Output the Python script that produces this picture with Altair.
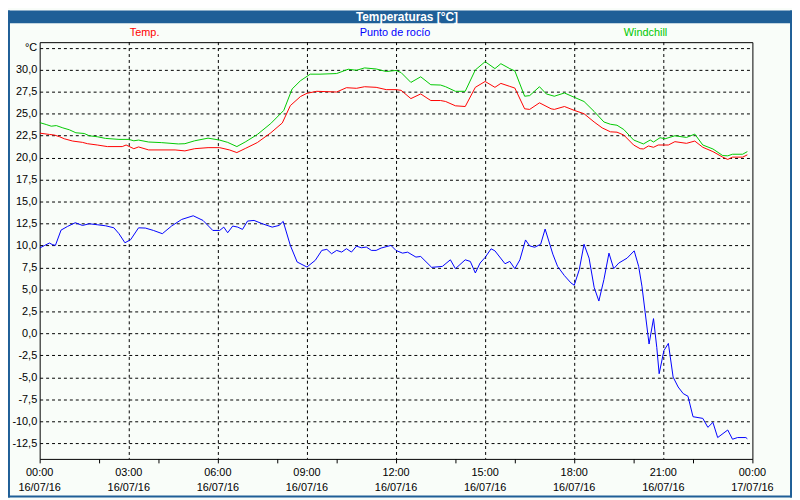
import altair as alt
import pandas as pd

# ---- data (hours since 16/07/16 00:00, °C) ----
temp_h = [0.0, 0.33, 0.5, 0.67, 0.83, 1.11, 1.44, 1.61, 1.94, 2.28, 2.78, 2.91, 3.17, 3.33, 3.67,
          4.56, 4.89, 5.22, 5.67, 6.06, 6.39, 6.64, 6.94, 7.33, 7.78, 8.17, 8.44, 8.78, 9.0, 9.33,
          10.0, 10.33, 10.67, 10.94, 11.33, 11.67, 12.0, 12.17, 12.5, 12.83, 13.17, 13.5, 13.67,
          14.0, 14.33, 14.67, 15.0, 15.33, 15.53, 15.83, 16.0, 16.33, 16.5, 16.83, 17.22, 17.33,
          17.67, 18.0, 18.33, 18.67, 18.94, 19.22, 19.44, 19.67, 20.0, 20.22, 20.33, 20.5, 20.67,
          20.83, 21.17, 21.39, 21.78, 22.06, 22.33, 22.67, 23.0, 23.17, 23.33, 23.67, 23.83]
temp_v = [22.77, 22.62, 22.55, 22.36, 22.13, 21.87, 21.72, 21.57, 21.42, 21.24, 21.24, 21.42, 21.0,
          21.2, 20.86, 20.86, 20.75, 21.0, 21.12, 21.12, 20.86, 20.56, 21.05, 21.7, 22.8, 23.93,
          25.9, 26.93, 27.3, 27.53, 27.45, 27.94, 27.87, 28.05, 27.98, 27.72, 27.72, 27.64, 26.7,
          27.23, 26.48, 26.48, 26.37, 25.88, 25.8, 27.98, 28.65, 27.98, 28.43, 28.09, 27.9, 25.54,
          25.47, 26.22, 25.54, 25.47, 25.8, 25.36, 24.98, 24.04, 23.37, 22.92, 22.88, 22.55, 21.42,
          21.0, 20.97, 21.31, 21.16, 21.42, 21.42, 21.8, 21.61, 21.87, 21.16, 20.67, 20.04, 19.78,
          20.04, 20.04, 20.3]

wind_h = [0.0, 0.22, 0.39, 0.56, 0.78, 1.0, 1.22, 1.5, 1.67, 1.94, 2.22, 2.67, 3.0, 3.17, 3.33,
          3.67, 4.11, 4.67, 4.89, 5.22, 5.67, 6.06, 6.33, 6.64, 6.94, 7.33, 7.78, 8.22, 8.5, 8.78,
          9.11, 9.44, 10.0, 10.39, 10.67, 10.94, 11.33, 11.67, 12.0, 12.17, 12.5, 12.83, 13.17,
          13.5, 13.67, 14.0, 14.33, 14.67, 15.0, 15.33, 15.53, 15.83, 16.0, 16.33, 16.5, 16.83,
          17.06, 17.33, 17.67, 18.0, 18.33, 18.67, 19.0, 19.22, 19.44, 19.67, 20.0, 20.33, 20.56,
          20.67, 20.89, 21.06, 21.39, 21.78, 22.06, 22.33, 22.67, 23.0, 23.17, 23.33, 23.67, 23.83]
wind_v = [23.97, 23.75, 23.56, 23.63, 23.37, 23.15, 22.81, 22.73, 22.47, 22.36, 22.17, 22.06,
          22.06, 21.9, 21.98, 21.76, 21.69, 21.54, 21.57, 21.9, 22.2, 21.98, 21.72, 21.24, 21.8,
          22.62, 23.86, 25.36, 27.79, 28.73, 29.48, 29.48, 29.55, 30.04, 29.92, 30.19, 30.07, 29.78,
          29.9, 29.66, 28.54, 29.18, 28.28, 28.24, 28.05, 27.53, 27.53, 29.96, 30.9, 30.11, 30.67,
          30.11, 29.85, 26.97, 27.04, 28.05, 27.23, 26.97, 27.34, 26.85, 26.37, 25.24, 24.04,
          23.78, 23.67, 23.18, 21.99, 21.54, 21.99, 21.76, 22.25, 22.13, 22.47, 22.28, 22.66,
          21.42, 20.97, 20.22, 20.19, 20.37, 20.37, 20.67]

dew_h = [0.0, 0.17, 0.33, 0.42, 0.53, 0.72, 0.94, 1.2, 1.44, 1.67, 1.94, 2.22, 2.5, 2.67, 2.87,
         3.06, 3.33, 3.56, 3.83, 4.13, 4.44, 4.78, 5.17, 5.5, 5.83, 6.06, 6.2, 6.33, 6.5, 6.67,
         6.83, 7.0, 7.22, 7.5, 7.83, 8.06, 8.2, 8.44, 8.67, 9.0, 9.28, 9.5, 9.67, 9.83, 10.0,
         10.17, 10.33, 10.5, 10.67, 10.83, 11.0, 11.17, 11.33, 11.5, 11.83, 12.0, 12.22, 12.39,
         12.67, 12.83, 13.2, 13.56, 13.83, 14.0, 14.33, 14.5, 14.67, 14.83, 15.0, 15.2, 15.33,
         15.67, 15.83, 16.0, 16.17, 16.36, 16.5, 16.67, 16.87, 17.02, 17.28, 17.44, 17.67, 17.89,
         18.0, 18.17, 18.33, 18.5, 18.67, 18.83, 19.0, 19.17, 19.33, 19.5, 19.78, 20.02, 20.17,
         20.28, 20.39, 20.52, 20.67, 20.78, 20.86, 21.02, 21.17, 21.33, 21.5, 21.67, 21.83, 22.0,
         22.33, 22.5, 22.67, 22.83, 23.17, 23.33, 23.5, 23.78, 23.83]
dew_v = [9.7, 10.0, 10.27, 10.1, 10.0, 11.74, 12.16, 12.58, 12.27, 12.46, 12.35, 12.23, 12.0,
         11.33, 10.3, 10.64, 12.0, 11.97, 11.7, 11.33, 12.2, 12.95, 13.37, 12.84, 11.7, 11.7,
         12.08, 11.44, 12.2, 12.08, 11.82, 12.77, 12.84, 12.46, 12.08, 12.27, 12.73, 10.0, 8.11,
         7.54, 8.3, 9.43, 9.55, 9.05, 9.43, 9.24, 9.62, 9.24, 9.92, 9.73, 9.81, 9.43, 9.43, 9.7,
         10.0, 9.42, 9.12, 9.23, 8.67, 8.74, 7.5, 7.61, 8.36, 7.35, 8.36, 8.18, 6.86, 7.99, 8.63,
         9.61, 9.38, 7.91, 8.18, 7.35, 8.36, 10.62, 9.94, 9.79, 10.13, 11.86, 9.0, 7.61, 6.56,
         5.73, 5.47, 7.24, 10.13, 8.55, 5.24, 3.67, 6.11, 9.12, 7.35, 7.99, 8.55, 9.38, 7.61, 5.36,
         2.35, -1.22, 1.67, -1.6, -4.6, -1.97, -1.15, -4.98, -6.11, -6.86, -7.16, -9.49, -9.68,
         -10.7, -10.13, -11.86, -11.0, -12.05, -11.86, -11.86, -12.0]

series_names = ["Temp.", "Punto de rocío", "Windchill"]
series_colors = ["#FF0000", "#0000FF", "#00C800"]
series_label_x = [106, 359, 612]

y_ticks = [-12.5, -10.0, -7.5, -5.0, -2.5, 0.0, 2.5, 5.0, 7.5, 10.0, 12.5, 15.0, 17.5, 20.0,
           22.5, 25.0, 27.5, 30.0, 32.5]
x_ticks = list(range(0, 25))
x_grid = [3, 6, 9, 12, 15, 18, 21]
x_label_h = [0, 3, 6, 9, 12, 15, 18, 21, 24]
x_label_time = ["00:00", "03:00", "06:00", "09:00", "12:00", "15:00", "18:00", "21:00", "00:00"]
x_label_date = ["16/07/16"] * 8 + ["17/07/16"]
title_text = "Temperaturas [°C]"

FONT = "Liberation Sans"
BG = "#F9FDF9"
FRAME = "#1F5F97"
W, H = 720, 421

df = pd.concat([
    pd.DataFrame({"h": temp_h, "v": temp_v, "s": series_names[0]}),
    pd.DataFrame({"h": dew_h, "v": dew_v, "s": series_names[1]}),
    pd.DataFrame({"h": wind_h, "v": wind_v, "s": series_names[2]}),
], ignore_index=True)

x_scale = alt.Scale(domain=[0, 24], nice=False, zero=False)
y_scale = alt.Scale(domain=[-14.29, 33.12], nice=False, zero=False)

y_label_expr = ("datum.value > 32 ? '°C' : (datum.value < 0 ? '-' : '') + "
                "replace(format(abs(datum.value), '.1f'), '.', ',')")

lines = alt.Chart(df).mark_line(strokeWidth=1, clip=True).encode(
    x=alt.X("h:Q", scale=x_scale, axis=alt.Axis(
        values=x_ticks, grid=False, domain=False, tickColor="black", tickSize=4,
        labels=False, title=None)),
    y=alt.Y("v:Q", scale=y_scale, axis=alt.Axis(
        values=y_ticks, grid=True, gridColor="black", gridDash=[3, 3], gridWidth=1,
        ticks=False, domain=False, labelPadding=3, labelExpr=y_label_expr,
        labelFont=FONT, labelFontSize=11, labelColor="black", labelOverlap=False,
        labelFlush=False, title=None)),
    color=alt.Color("s:N", scale=alt.Scale(domain=series_names, range=series_colors),
                    legend=None),
    detail="s:N",
)

vgrid = alt.Chart(pd.DataFrame({"g": x_grid})).mark_rule(
    color="black", strokeDash=[3, 3], strokeWidth=1, xOffset=0.5).encode(
    x=alt.X("g:Q", scale=x_scale), y=alt.value(0), y2=alt.value(H))

xlab_df = pd.DataFrame({"h": x_label_h, "t": x_label_time, "d": x_label_date})
xlab_time = alt.Chart(xlab_df).mark_text(
    font=FONT, fontSize=11, color="black", align="center", baseline="middle").encode(
    x=alt.X("h:Q", scale=x_scale), y=alt.value(H + 14), text="t:N")
xlab_date = alt.Chart(xlab_df).mark_text(
    font=FONT, fontSize=11, color="black", align="center", baseline="middle").encode(
    x=alt.X("h:Q", scale=x_scale), y=alt.value(H + 29), text="d:N")

title_bar = alt.Chart(pd.DataFrame({"t": [title_text]})).mark_rect(color=FRAME).encode(
    x=alt.value(-32), x2=alt.value(760), y=alt.value(-32), y2=alt.value(-19))

title = alt.Chart(pd.DataFrame({"t": [title_text]})).mark_text(
    font=FONT, fontSize=12, fontWeight="bold", color="white", align="center",
    baseline="middle").encode(text="t:N", x=alt.value(371), y=alt.value(-25))

legend_df = pd.DataFrame({"s": series_names, "lx": series_label_x})
legend_text = alt.Chart(legend_df).mark_text(
    font=FONT, fontSize=11, align="center", baseline="middle").encode(
    text="s:N",
    x=alt.X("lx:Q", scale=None),
    y=alt.value(-9),
    color=alt.Color("s:N", scale=alt.Scale(domain=series_names, range=series_colors),
                    legend=None))

frame_left = alt.Chart(pd.DataFrame({"k": ["l"]})).mark_rule(color=FRAME, strokeWidth=2).encode(
    x=alt.value(-31), y=alt.value(-32), y2=alt.value(460))
frame_right = alt.Chart(pd.DataFrame({"k": ["r"]})).mark_rule(color=FRAME, strokeWidth=2).encode(
    x=alt.value(759), y=alt.value(-32), y2=alt.value(460))
frame_bottom = alt.Chart(pd.DataFrame({"k": ["b"]})).mark_rule(color=FRAME, strokeWidth=2).encode(
    x=alt.value(-32), x2=alt.value(760), y=alt.value(459))

chart = alt.layer(
    vgrid, lines, xlab_time, xlab_date, legend_text, title_bar, title,
    frame_left, frame_right, frame_bottom
).resolve_scale(color="independent").properties(
    width=W, height=H,
    autosize=alt.AutoSizeParams(type="none"),
    padding={"left": 32, "top": 32, "right": 40, "bottom": 39},
    background=BG,
).configure_view(stroke="black", strokeWidth=1)

chart.save("out.html", embed_options={"renderer": "svg", "actions": False})
